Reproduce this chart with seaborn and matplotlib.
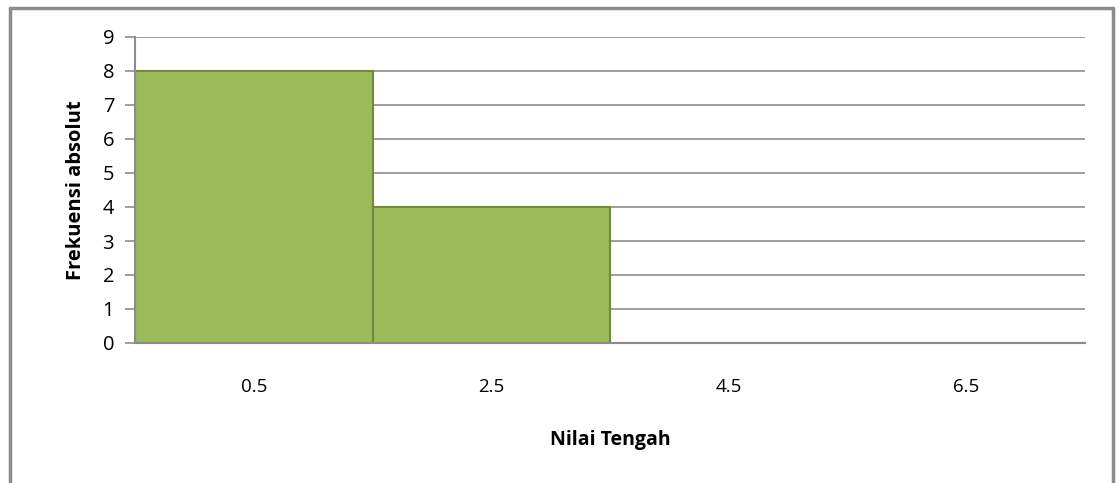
import matplotlib as mpl
import matplotlib.pyplot as plt
from matplotlib.lines import Line2D
import seaborn as sns
import pandas as pd

nilai_tengah = ["0.5", "2.5", "4.5", "6.5"]
frekuensi = [8, 4, 0, 0]

sns.set_style("white")
plt.rcParams['font.family'] = ['Open Sans', 'DejaVu Sans']
plt.rcParams['text.color'] = 'black'
plt.rcParams['axes.labelcolor'] = 'black'
plt.rcParams['xtick.color'] = 'black'
plt.rcParams['ytick.color'] = 'black'

df = pd.DataFrame({'Nilai Tengah': nilai_tengah, 'Frekuensi absolut': frekuensi})

fig = plt.figure(figsize=(11.19, 4.83), dpi=100)
ax = fig.add_axes([135 / 1119, 1 - 343 / 483, 950 / 1119, 306 / 483])

sns.barplot(data=df, x='Nilai Tengah', y='Frekuensi absolut', ax=ax,
            color='#9BBB59', saturation=1, width=1.0,
            edgecolor='#71893F', linewidth=1.5, zorder=2)

ax.set_ylim(0, 9)
ax.set_xlim(-0.5, 3.5)
ax.set_yticks(range(0, 10))
ax.yaxis.grid(True, color='#8C8C8C', linewidth=1.2, zorder=0)
ax.set_axisbelow(True)
for s in ['top', 'right']:
    ax.spines[s].set_visible(False)
for s in ['left', 'bottom']:
    ax.spines[s].set_color('#8C8C8C')
    ax.spines[s].set_linewidth(1.5)
    ax.spines[s].set_zorder(5)
ax.tick_params(axis='y', left=True, length=7, width=1.2, color='#8C8C8C',
               labelcolor='black', labelsize=14.5, pad=8)
ax.tick_params(axis='x', bottom=False, labelcolor='black', labelsize=13.5, pad=22)

ax.set_xlabel('Nilai Tengah', fontsize=14, fontweight='bold', labelpad=24)
ax.set_ylabel('Frekuensi absolut', fontsize=14.5, fontweight='bold', labelpad=12)

# chart-area frame
fc = '#8C8C8C'
for xs, ys in [([10, 1113], [8, 8]), ([10, 10], [8, 483]), ([1113, 1113], [8, 483])]:
    fig.add_artist(Line2D([x / 1119 for x in xs], [1 - y / 483 for y in ys],
                          color=fc, linewidth=2.5, transform=fig.transFigure))

plt.savefig('out.png', dpi=100)
